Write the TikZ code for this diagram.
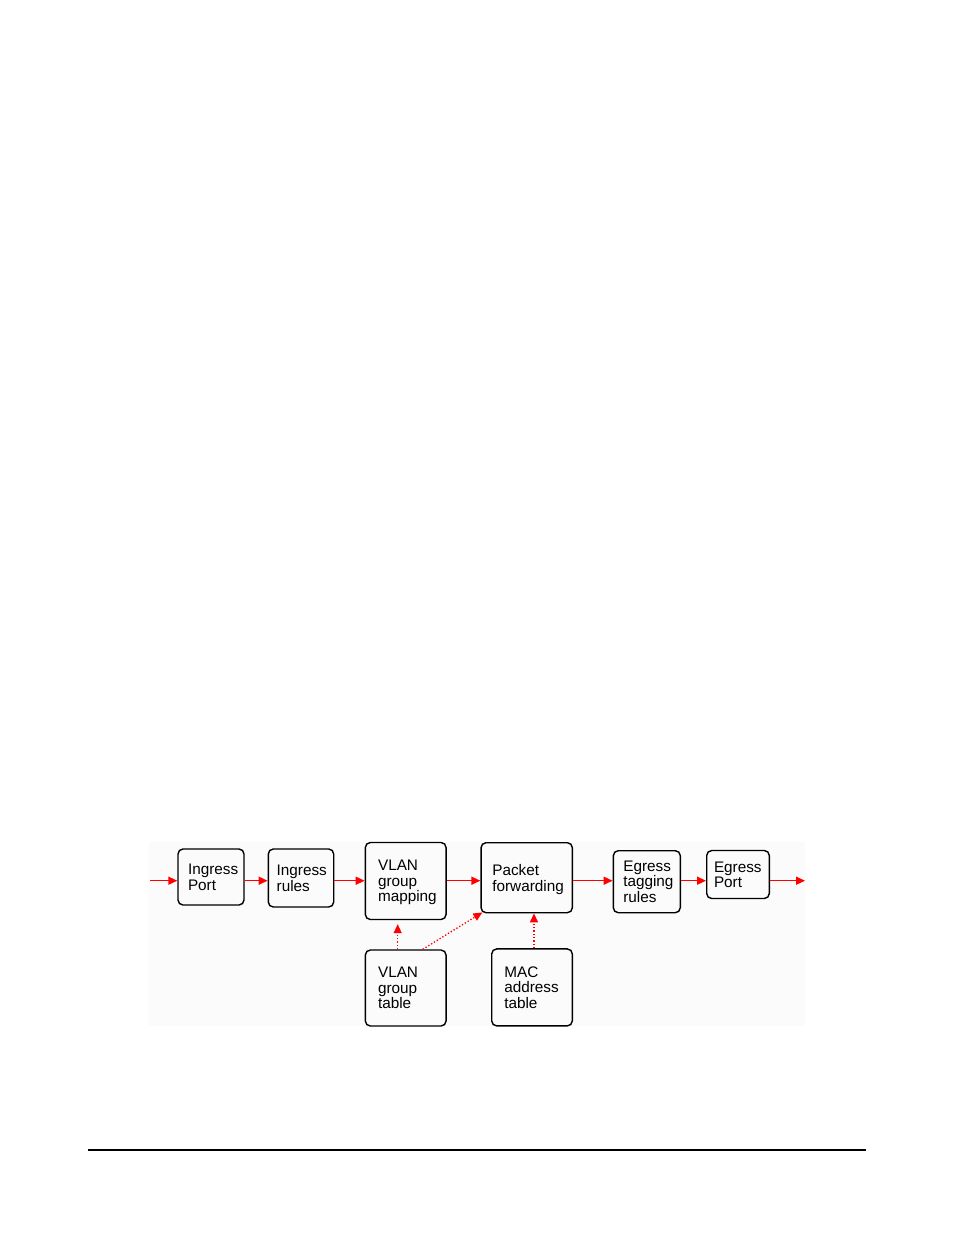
\documentclass[tikz,border=0pt]{standalone}
\usepackage{fontspec}
\setmainfont{Liberation Sans}
\usetikzlibrary{arrows.meta}

\begin{document}
\begin{tikzpicture}[x=1pt,y=-1pt,line width=1.4pt,
  >={Triangle[length=9pt,width=8pt]},
  blk/.style={draw,rounded corners=5pt,align=left,inner ysep=0pt,
    font=\fontsize{15.3}{15.5}\selectfont},
  twoline/.style={blk,text depth=15.5pt},
  threeline/.style={blk,text depth=31pt},
  flow/.style={->,red,line width=1.5pt},
  lookup/.style={->,red,line width=1.3pt,dotted}]

\useasboundingbox (0,0) rectangle (954,1235);
\fill[black!1.5]  (149,842)  rectangle  (805,1026);

\node [twoline,text width=46pt,inner xsep=10pt,minimum height=56pt]     (ingport)  at (211,877)     {Ingress\\Port};
\node [twoline,text width=48.6pt,inner xsep=8.4pt,minimum height=58pt]  (ingrules) at (301,878)     {Ingress\\rules};
\node [threeline,text width=55.3pt,inner xsep=12.7pt,minimum height=77pt] (vlanmap) at (405.7,881) {VLAN\\group\\mapping};
\node [twoline,text width=68.7pt,inner xsep=11.3pt,minimum height=70pt] (pktfwd)   at (526.7,877.7) {Packet\\forwarding};
\node [threeline,text width=47pt,inner xsep=10pt,minimum height=62pt]   (egtag)    at (646.8,881.7) {Egress\\tagging\\rules};
\node [twoline,text width=48pt,inner xsep=7.3pt,minimum height=48pt]    (egport)   at (738,874.5)   {Egress\\Port};

\node [threeline,text width=55.3pt,inner xsep=12.7pt,minimum height=76pt] (vlantab) at (405.7,988) {VLAN\\group\\table};
\node [threeline,text width=55.4pt,inner xsep=12.6pt,minimum height=77pt] (mactab)  at (532,987.4) {MAC\\address\\table};

\coordinate (flowline) at (0,880.7);
\coordinate (src)  at (150,880.7);
\coordinate (sink) at (805,880.7);

\draw[flow]  (src)  --  (ingport.west |- flowline);
\draw[flow]  (ingport.east |- flowline)  --  (ingrules.west |- flowline);
\draw[flow]  (ingrules.east |- flowline)  --  (vlanmap.west |- flowline);
\draw[flow]  (vlanmap.east |- flowline)  --  (pktfwd.west |- flowline);
\draw[flow]  (pktfwd.east |- flowline)  --  (egtag.west |- flowline);
\draw[flow]  (egtag.east |- flowline)  --  (egport.west |- flowline);
\draw[flow]  (egport.east |- flowline)  --  (sink);

\draw[lookup]  ([xshift=-8pt]vlantab.north)  --  ([xshift=-8pt,yshift=-4pt]vlanmap.south);
\draw[lookup]  ([xshift=17pt]vlantab.north)  --  ([xshift=2pt,yshift=1pt]pktfwd.south west);
\draw[lookup]  ([xshift=2pt]mactab.north)  --  ([xshift=2pt]mactab.north |- pktfwd.south);

\draw[line width=1.2pt]  (88,1150)  --  (866,1150);

\end{tikzpicture}
\end{document}
